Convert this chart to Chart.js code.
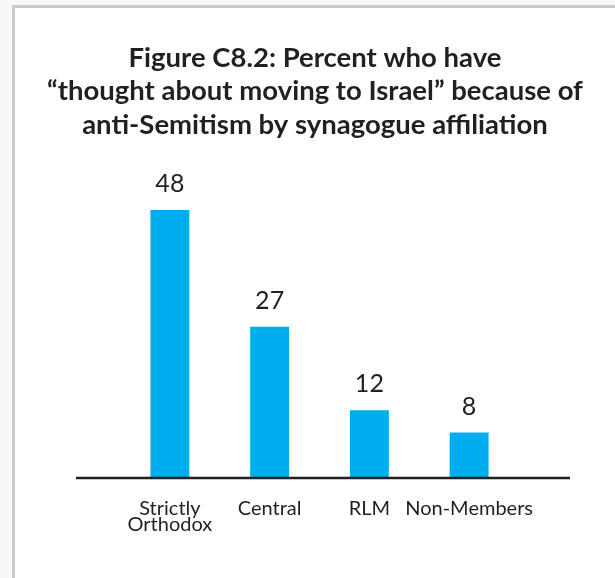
<!DOCTYPE html>
<html lang="en">
<head>
    <meta charset="UTF-8">
    <title>Figure C8.2</title>
    <script src="https://cdn.jsdelivr.net/npm/chart.js"></script>
    <style>
        body { margin: 0; background: #f8f8f8; }
        #frame {
            position: absolute; left: 12px; top: 5px; width: 603px; height: 573px;
            border-left: 3px solid #cbcbcb; border-top: 3px solid #cbcbcb;
            background: #fff;
        }
        #chart { position: absolute; left: 0; top: 0; }
    </style>
</head>
<body>
    <div id="frame"></div>
    <canvas id="chart" width="615" height="578"></canvas>

    <script>
        const categories = [["Strictly", "Orthodox"], "Central", "RLM", "Non-Members"];
        const percentValues = [48, 27, 12, 8];
        const titleLines = [
            "Figure C8.2: Percent who have",
            "\u201cthought about moving to Israel\u201d because of",
            "anti-Semitism by synagogue affiliation"
        ];

        const textColor = "#231f20";

        // title (wider than the plot), value above each bar, long base line
        const barExtras = {
            id: "barExtras",
            afterDatasetsDraw(chart) {
                const ctx = chart.ctx;
                const area = chart.chartArea;
                ctx.save();

                ctx.fillStyle = textColor;
                ctx.textAlign = "center";
                ctx.textBaseline = "middle";
                ctx.font = "bold 27.5px Lato";
                titleLines.forEach((line, i) => {
                    ctx.fillText(line, 315, 58 + i * 33.5);
                });

                ctx.strokeStyle = textColor;
                ctx.lineWidth = 2.5;
                ctx.beginPath();
                ctx.moveTo(area.left - 44, area.bottom + 1);
                ctx.lineTo(area.right + 51, area.bottom + 1);
                ctx.stroke();

                ctx.font = "25px Lato";
                chart.getDatasetMeta(0).data.forEach((bar, i) => {
                    ctx.fillText(percentValues[i], bar.x, bar.y - 26);
                });
                ctx.restore();
            }
        };

        new Chart(document.getElementById("chart"), {
            type: "bar",
            data: {
                labels: categories,
                datasets: [{
                    data: percentValues,
                    backgroundColor: "#00aeef",
                    barPercentage: 0.39,
                    categoryPercentage: 1
                }]
            },
            options: {
                responsive: false,
                animation: false,
                layout: { padding: { left: 120, right: 96, top: 143.25, bottom: 0 } },
                plugins: {
                    legend: { display: false },
                    tooltip: { enabled: false }
                },
                scales: {
                    x: {
                        grid: { display: false, drawTicks: false },
                        border: { display: false },
                        ticks: {
                            color: textColor,
                            font: { family: "Lato", size: 20, lineHeight: 0.8 },
                            padding: 24,
                            autoSkip: false,
                            maxRotation: 0
                        },
                        afterFit(scale) { scale.height = 101; }
                    },
                    y: {
                        display: false,
                        min: 0,
                        max: 60
                    }
                }
            },
            plugins: [barExtras]
        });
    </script>
</body>
</html>
